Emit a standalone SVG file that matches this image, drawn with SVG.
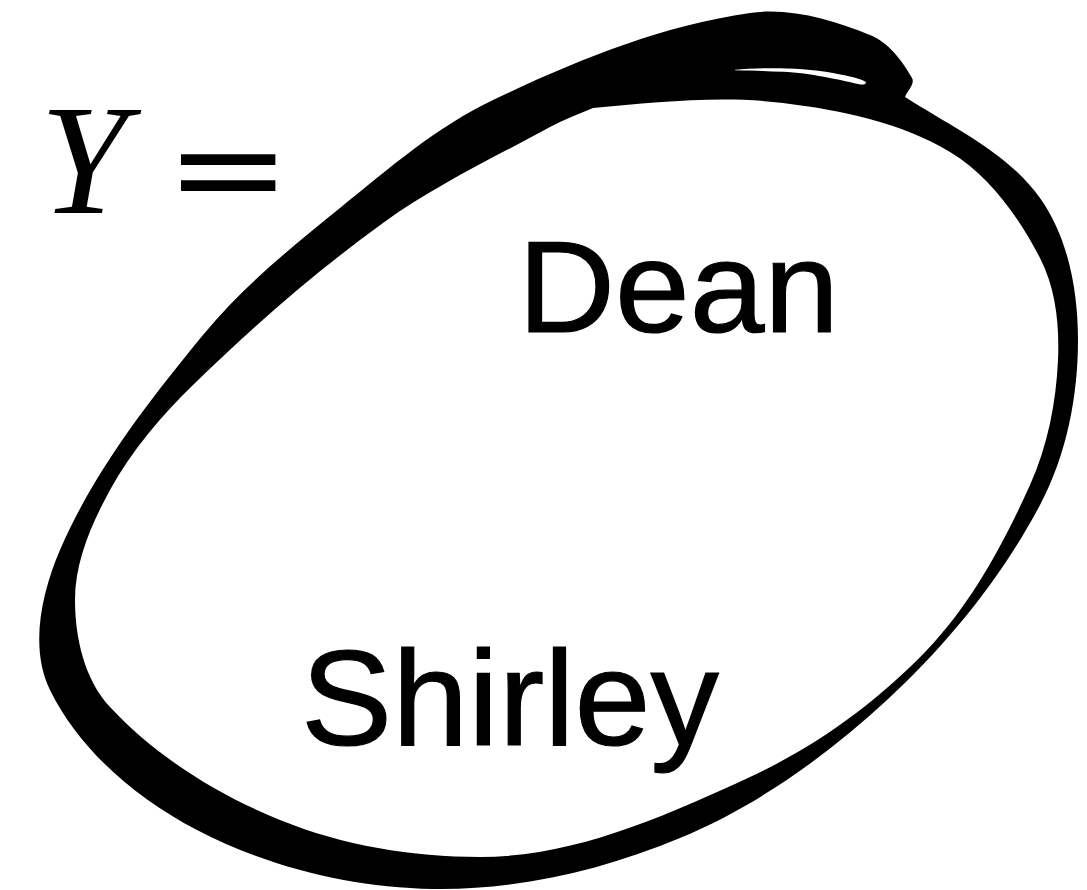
<svg xmlns="http://www.w3.org/2000/svg" width="1087" height="890" viewBox="0 0 1087 890">
<style>
.lbl{font-family:"Liberation Sans",Arial,Helvetica,sans-serif;fill:#000;stroke:#000;stroke-width:1.2}
.math{font-family:"Liberation Serif","Times New Roman",serif;font-style:italic;fill:#000}
.eq{font-family:"DejaVu Sans",sans-serif;fill:#000}
</style>
<rect width="1087" height="890" fill="#fff"/>
<g id="set-loop">
<path fill="#000" fill-rule="evenodd" d="M 750 13 C 790.3 7.3 832.2 19.9 870 35 C 888.6 42.4 902.2 60.6 912 78 C 915.3 83.8 907.3 90.7 905 97 C 952.2 127.3 1007.4 152.2 1040 198 C 1068.4 237.9 1078 291 1078 340 C 1078 396.4 1066.5 455.2 1040 505 C 1001.3 577.9 947.6 643.9 887 700 C 826.2 756.3 756.5 806.2 680 838 C 602.4 870.3 517.1 890.4 433 889 C 351.9 887.6 268.9 867.4 197 830 C 137 798.8 79.8 750.8 50 690 C 29.4 648 41.5 593 60 550 C 94.1 471 148.5 401.6 203 335 C 242.4 286.8 291.6 247.2 340 208 C 388.5 168.7 436.7 126.8 493 100 C 574.6 61.1 660.5 25.7 750 13 Z
M 593 108 C 656.1 102.4 720 95.3 783 103 C 840.6 110.1 900.4 122.1 950 152 C 989.6 175.9 1018.7 216.9 1040 258 C 1055.9 288.6 1059.5 325.5 1058 360 C 1056.1 402.7 1047.6 446.1 1030 485 C 1003.3 544 971.8 603.2 927 650 C 876.8 702.4 815.9 746.5 750 777 C 664.8 816.4 573.9 857 480 857 C 412.2 857 342.9 845.5 280 820 C 217 794.4 156.4 756.8 110 707 C 84.4 679.5 75 637.5 75 600 C 75 561.5 91.5 523.8 110 490 C 131.5 450.9 161.1 416.2 193 385 C 252.5 326.8 315.6 271.8 383 223 C 435 185.4 493.7 157.8 550 127 C 563.8 119.5 578.6 114.3 593 108 Z
M 735 69.8 C 760 67.5 800 67 833 73 C 850 76 862 79 866 82 C 866 85 862 85 858 84 C 840 80 810 73 783 71.8 C 765 71 750 70.5 735 70.2 Z"/>
</g>
<g id="label-y">
<text class="math" x="40" y="213" font-size="157">Y</text>
<text class="eq" transform="translate(165,0) scale(1.16,1)" x="0" y="213" font-size="130">=</text>
</g>
<g id="node-dean"><text class="lbl" x="518" y="332" font-size="130" textLength="321" lengthAdjust="spacingAndGlyphs">Dean</text></g>
<g id="node-shirley"><text class="lbl" x="301" y="745" font-size="135" textLength="418" lengthAdjust="spacingAndGlyphs">Shirley</text></g>
</svg>
